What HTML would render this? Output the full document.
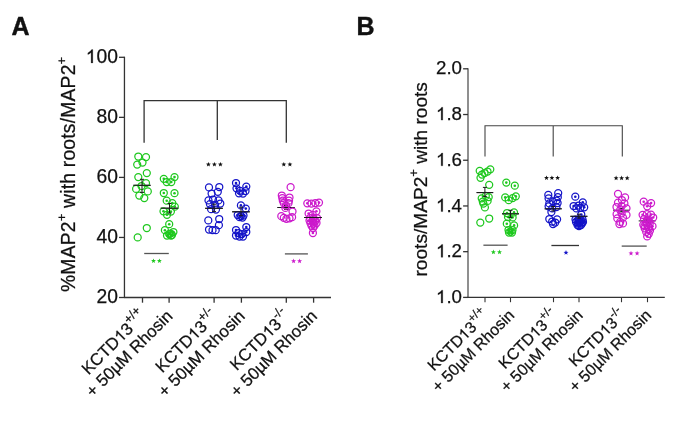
<!DOCTYPE html>
<html><head><meta charset="utf-8"><style>
html,body{margin:0;padding:0;background:#fff;}
svg{display:block;will-change:transform;}
text{font-family:"Liberation Sans",sans-serif;fill:#111;stroke:#111;stroke-width:0.25px;}
.one{fill-opacity:0;stroke-opacity:0;}
</style></head><body>
<svg width="685" height="424" viewBox="0 0 685 424">
<rect width="685" height="424" fill="#fff"/>
<text x="11.6" y="34.5" font-size="25" font-weight="bold" style="stroke-width:0.4px">A</text>
<text x="356.4" y="34.5" font-size="25" font-weight="bold" style="stroke-width:0.4px">B</text>
<line x1="124.45" y1="56.70000000000001" x2="124.45" y2="298.1" stroke="#333" stroke-width="1.3"/>
<line x1="124.45" y1="297.5" x2="331" y2="297.5" stroke="#333" stroke-width="1.3"/>
<line x1="119" y1="57.30000000000001" x2="124.45" y2="57.30000000000001" stroke="#333" stroke-width="1.3"/>
<text x="118" y="62.90000000000001" font-size="19.3" text-anchor="end"><tspan class="one">1</tspan>00</text>
<line x1="119" y1="117.35" x2="124.45" y2="117.35" stroke="#333" stroke-width="1.3"/>
<text x="118" y="122.94999999999999" font-size="19.3" text-anchor="end">80</text>
<line x1="119" y1="177.4" x2="124.45" y2="177.4" stroke="#333" stroke-width="1.3"/>
<text x="118" y="183.0" font-size="19.3" text-anchor="end">60</text>
<line x1="119" y1="237.45" x2="124.45" y2="237.45" stroke="#333" stroke-width="1.3"/>
<text x="118" y="243.04999999999998" font-size="19.3" text-anchor="end">40</text>
<line x1="119" y1="297.5" x2="124.45" y2="297.5" stroke="#333" stroke-width="1.3"/>
<text x="118" y="303.1" font-size="19.3" text-anchor="end">20</text>
<line x1="142.5" y1="297.5" x2="142.5" y2="302.7" stroke="#333" stroke-width="1.3"/>
<line x1="169.1" y1="297.5" x2="169.1" y2="302.7" stroke="#333" stroke-width="1.3"/>
<line x1="214.1" y1="297.5" x2="214.1" y2="302.7" stroke="#333" stroke-width="1.3"/>
<line x1="241.4" y1="297.5" x2="241.4" y2="302.7" stroke="#333" stroke-width="1.3"/>
<line x1="286.3" y1="297.5" x2="286.3" y2="302.7" stroke="#333" stroke-width="1.3"/>
<line x1="313.6" y1="297.5" x2="313.6" y2="302.7" stroke="#333" stroke-width="1.3"/>
<text transform="translate(74.8,292) rotate(-90)" font-size="19.3" letter-spacing="0.21">%MAP2<tspan dy="-8.8" font-size="13">+</tspan><tspan dy="8.8"> with roots/MAP2</tspan><tspan dy="-8.8" font-size="13">+</tspan></text>
<path d="M144.1,142.8 V100.6 H286.3 V142.8 M217.3,100.6 V140.1" fill="none" stroke="#333" stroke-width="1.3"/>
<line x1="133.4" y1="185.3" x2="150.6" y2="185.3" stroke="#1a1a1a" stroke-width="1.0"/>
<line x1="160.7" y1="208.2" x2="178.3" y2="208.2" stroke="#1a1a1a" stroke-width="1.0"/>
<line x1="205.2" y1="208.3" x2="222.8" y2="208.3" stroke="#1a1a1a" stroke-width="1.0"/>
<line x1="232.2" y1="211.8" x2="249.8" y2="211.8" stroke="#1a1a1a" stroke-width="1.0"/>
<line x1="277.2" y1="207.5" x2="294.8" y2="207.5" stroke="#1a1a1a" stroke-width="1.0"/><line x1="286" y1="205.5" x2="286" y2="209.5" stroke="#1a1a1a" stroke-width="1.0"/><line x1="284.0" y1="205.5" x2="288.0" y2="205.5" stroke="#1a1a1a" stroke-width="1.0"/><line x1="284.0" y1="209.5" x2="288.0" y2="209.5" stroke="#1a1a1a" stroke-width="1.0"/>
<line x1="304" y1="217.5" x2="322" y2="217.5" stroke="#1a1a1a" stroke-width="1.0"/><line x1="313" y1="215.8" x2="313" y2="219.2" stroke="#1a1a1a" stroke-width="1.0"/><line x1="311.0" y1="215.8" x2="315.0" y2="215.8" stroke="#1a1a1a" stroke-width="1.0"/><line x1="311.0" y1="219.2" x2="315.0" y2="219.2" stroke="#1a1a1a" stroke-width="1.0"/>
<circle cx="138.3" cy="156.5" r="3.5" fill="none" stroke="#1ec81e" stroke-width="1.25"/>
<circle cx="146.0" cy="157.1" r="3.5" fill="none" stroke="#1ec81e" stroke-width="1.25"/>
<circle cx="137.2" cy="164.6" r="3.5" fill="none" stroke="#1ec81e" stroke-width="1.25"/>
<circle cx="142.5" cy="162.5" r="3.5" fill="none" stroke="#1ec81e" stroke-width="1.25"/>
<circle cx="146.8" cy="173.1" r="3.5" fill="none" stroke="#1ec81e" stroke-width="1.25"/>
<circle cx="138.3" cy="177.1" r="3.5" fill="none" stroke="#1ec81e" stroke-width="1.25"/>
<circle cx="146.0" cy="183.2" r="3.5" fill="none" stroke="#1ec81e" stroke-width="1.25"/>
<circle cx="141.5" cy="186" r="3.5" fill="none" stroke="#1ec81e" stroke-width="1.25"/>
<circle cx="136.1" cy="188.9" r="3.5" fill="none" stroke="#1ec81e" stroke-width="1.25"/>
<circle cx="147.8" cy="191.4" r="3.5" fill="none" stroke="#1ec81e" stroke-width="1.25"/>
<circle cx="139.3" cy="195.6" r="3.5" fill="none" stroke="#1ec81e" stroke-width="1.25"/>
<circle cx="144.3" cy="198.1" r="3.5" fill="none" stroke="#1ec81e" stroke-width="1.25"/>
<circle cx="146.8" cy="228" r="3.5" fill="none" stroke="#1ec81e" stroke-width="1.25"/>
<circle cx="137.7" cy="237.4" r="3.5" fill="none" stroke="#1ec81e" stroke-width="1.25"/>
<circle cx="163.8" cy="178.8" r="3.5" fill="none" stroke="#1ec81e" stroke-width="1.25"/>
<circle cx="163.8" cy="178.8" r="1.3" fill="#1ec81e"/>
<circle cx="174.5" cy="177.1" r="3.5" fill="none" stroke="#1ec81e" stroke-width="1.25"/>
<circle cx="174.5" cy="177.1" r="1.3" fill="#1ec81e"/>
<circle cx="166.7" cy="182" r="3.5" fill="none" stroke="#1ec81e" stroke-width="1.25"/>
<circle cx="166.7" cy="182" r="1.3" fill="#1ec81e"/>
<circle cx="171.3" cy="182" r="3.5" fill="none" stroke="#1ec81e" stroke-width="1.25"/>
<circle cx="171.3" cy="182" r="1.3" fill="#1ec81e"/>
<circle cx="163.8" cy="193" r="3.5" fill="none" stroke="#1ec81e" stroke-width="1.25"/>
<circle cx="163.8" cy="193" r="1.3" fill="#1ec81e"/>
<circle cx="174.5" cy="193.2" r="3.5" fill="none" stroke="#1ec81e" stroke-width="1.25"/>
<circle cx="174.5" cy="193.2" r="1.3" fill="#1ec81e"/>
<circle cx="166.7" cy="200.7" r="3.5" fill="none" stroke="#1ec81e" stroke-width="1.25"/>
<circle cx="166.7" cy="200.7" r="1.3" fill="#1ec81e"/>
<circle cx="172.3" cy="203.1" r="3.5" fill="none" stroke="#1ec81e" stroke-width="1.25"/>
<circle cx="172.3" cy="203.1" r="1.3" fill="#1ec81e"/>
<circle cx="174.8" cy="206.7" r="3.5" fill="none" stroke="#1ec81e" stroke-width="1.25"/>
<circle cx="174.8" cy="206.7" r="1.3" fill="#1ec81e"/>
<circle cx="163.5" cy="211.3" r="3.5" fill="none" stroke="#1ec81e" stroke-width="1.25"/>
<circle cx="163.5" cy="211.3" r="1.3" fill="#1ec81e"/>
<circle cx="170.9" cy="211.6" r="3.5" fill="none" stroke="#1ec81e" stroke-width="1.25"/>
<circle cx="170.9" cy="211.6" r="1.3" fill="#1ec81e"/>
<circle cx="167" cy="214.8" r="3.5" fill="none" stroke="#1ec81e" stroke-width="1.25"/>
<circle cx="167" cy="214.8" r="1.3" fill="#1ec81e"/>
<circle cx="169.2" cy="224.2" r="3.5" fill="none" stroke="#1ec81e" stroke-width="1.25"/>
<circle cx="169.2" cy="224.2" r="1.3" fill="#1ec81e"/>
<circle cx="164.9" cy="230.2" r="3.5" fill="none" stroke="#1ec81e" stroke-width="1.25"/>
<circle cx="164.9" cy="230.2" r="1.3" fill="#1ec81e"/>
<circle cx="173.4" cy="232" r="3.5" fill="none" stroke="#1ec81e" stroke-width="1.25"/>
<circle cx="173.4" cy="232" r="1.3" fill="#1ec81e"/>
<circle cx="169.2" cy="234" r="3.5" fill="none" stroke="#1ec81e" stroke-width="1.25"/>
<circle cx="169.2" cy="234" r="1.3" fill="#1ec81e"/>
<circle cx="167" cy="235.5" r="3.5" fill="none" stroke="#1ec81e" stroke-width="1.25"/>
<circle cx="167" cy="235.5" r="1.3" fill="#1ec81e"/>
<circle cx="171" cy="235.5" r="3.5" fill="none" stroke="#1ec81e" stroke-width="1.25"/>
<circle cx="171" cy="235.5" r="1.3" fill="#1ec81e"/>
<circle cx="170.5" cy="233.5" r="3.5" fill="none" stroke="#1ec81e" stroke-width="1.25"/>
<circle cx="170.5" cy="233.5" r="1.3" fill="#1ec81e"/>
<circle cx="172" cy="235" r="3.5" fill="none" stroke="#1ec81e" stroke-width="1.25"/>
<circle cx="172" cy="235" r="1.3" fill="#1ec81e"/>
<circle cx="209" cy="187.4" r="3.5" fill="none" stroke="#1414c8" stroke-width="1.25"/>
<circle cx="219.3" cy="187" r="3.5" fill="none" stroke="#1414c8" stroke-width="1.25"/>
<circle cx="211.6" cy="193.6" r="3.5" fill="none" stroke="#1414c8" stroke-width="1.25"/>
<circle cx="217.8" cy="191.8" r="3.5" fill="none" stroke="#1414c8" stroke-width="1.25"/>
<circle cx="208.5" cy="200.4" r="3.5" fill="none" stroke="#1414c8" stroke-width="1.25"/>
<circle cx="213" cy="199.5" r="3.5" fill="none" stroke="#1414c8" stroke-width="1.25"/>
<circle cx="218.5" cy="200.4" r="3.5" fill="none" stroke="#1414c8" stroke-width="1.25"/>
<circle cx="220.3" cy="203.5" r="3.5" fill="none" stroke="#1414c8" stroke-width="1.25"/>
<circle cx="209.9" cy="204.1" r="3.5" fill="none" stroke="#1414c8" stroke-width="1.25"/>
<circle cx="215" cy="204.9" r="3.5" fill="none" stroke="#1414c8" stroke-width="1.25"/>
<circle cx="211.1" cy="209.2" r="3.5" fill="none" stroke="#1414c8" stroke-width="1.25"/>
<circle cx="216" cy="209.5" r="3.5" fill="none" stroke="#1414c8" stroke-width="1.25"/>
<circle cx="208.3" cy="220.4" r="3.5" fill="none" stroke="#1414c8" stroke-width="1.25"/>
<circle cx="219.2" cy="219" r="3.5" fill="none" stroke="#1414c8" stroke-width="1.25"/>
<circle cx="218.9" cy="225.2" r="3.5" fill="none" stroke="#1414c8" stroke-width="1.25"/>
<circle cx="209" cy="229.5" r="3.5" fill="none" stroke="#1414c8" stroke-width="1.25"/>
<circle cx="212.5" cy="230.2" r="3.5" fill="none" stroke="#1414c8" stroke-width="1.25"/>
<circle cx="215.7" cy="230.2" r="3.5" fill="none" stroke="#1414c8" stroke-width="1.25"/>
<circle cx="236" cy="183" r="3.5" fill="none" stroke="#1414c8" stroke-width="1.25"/>
<circle cx="236" cy="183" r="1.3" fill="#1414c8"/>
<circle cx="246.3" cy="186.6" r="3.5" fill="none" stroke="#1414c8" stroke-width="1.25"/>
<circle cx="246.3" cy="186.6" r="1.3" fill="#1414c8"/>
<circle cx="236.5" cy="188.3" r="3.5" fill="none" stroke="#1414c8" stroke-width="1.25"/>
<circle cx="236.5" cy="188.3" r="1.3" fill="#1414c8"/>
<circle cx="240" cy="190.8" r="3.5" fill="none" stroke="#1414c8" stroke-width="1.25"/>
<circle cx="240" cy="190.8" r="1.3" fill="#1414c8"/>
<circle cx="245.5" cy="191" r="3.5" fill="none" stroke="#1414c8" stroke-width="1.25"/>
<circle cx="245.5" cy="191" r="1.3" fill="#1414c8"/>
<circle cx="239" cy="193.3" r="3.5" fill="none" stroke="#1414c8" stroke-width="1.25"/>
<circle cx="239" cy="193.3" r="1.3" fill="#1414c8"/>
<circle cx="243" cy="193.5" r="3.5" fill="none" stroke="#1414c8" stroke-width="1.25"/>
<circle cx="243" cy="193.5" r="1.3" fill="#1414c8"/>
<circle cx="240.9" cy="205.4" r="3.5" fill="none" stroke="#1414c8" stroke-width="1.25"/>
<circle cx="240.9" cy="205.4" r="1.3" fill="#1414c8"/>
<circle cx="245.8" cy="208.6" r="3.5" fill="none" stroke="#1414c8" stroke-width="1.25"/>
<circle cx="245.8" cy="208.6" r="1.3" fill="#1414c8"/>
<circle cx="237.7" cy="215" r="3.5" fill="none" stroke="#1414c8" stroke-width="1.25"/>
<circle cx="237.7" cy="215" r="1.3" fill="#1414c8"/>
<circle cx="241" cy="216" r="3.5" fill="none" stroke="#1414c8" stroke-width="1.25"/>
<circle cx="241" cy="216" r="1.3" fill="#1414c8"/>
<circle cx="243.5" cy="215.5" r="3.5" fill="none" stroke="#1414c8" stroke-width="1.25"/>
<circle cx="243.5" cy="215.5" r="1.3" fill="#1414c8"/>
<circle cx="239.5" cy="217.2" r="3.5" fill="none" stroke="#1414c8" stroke-width="1.25"/>
<circle cx="239.5" cy="217.2" r="1.3" fill="#1414c8"/>
<circle cx="242.5" cy="217.6" r="3.5" fill="none" stroke="#1414c8" stroke-width="1.25"/>
<circle cx="242.5" cy="217.6" r="1.3" fill="#1414c8"/>
<circle cx="246.3" cy="227" r="3.5" fill="none" stroke="#1414c8" stroke-width="1.25"/>
<circle cx="246.3" cy="227" r="1.3" fill="#1414c8"/>
<circle cx="236" cy="230" r="3.5" fill="none" stroke="#1414c8" stroke-width="1.25"/>
<circle cx="236" cy="230" r="1.3" fill="#1414c8"/>
<circle cx="246.3" cy="232" r="3.5" fill="none" stroke="#1414c8" stroke-width="1.25"/>
<circle cx="246.3" cy="232" r="1.3" fill="#1414c8"/>
<circle cx="236" cy="235.5" r="3.5" fill="none" stroke="#1414c8" stroke-width="1.25"/>
<circle cx="236" cy="235.5" r="1.3" fill="#1414c8"/>
<circle cx="239.5" cy="236.5" r="3.5" fill="none" stroke="#1414c8" stroke-width="1.25"/>
<circle cx="239.5" cy="236.5" r="1.3" fill="#1414c8"/>
<circle cx="243" cy="236.5" r="3.5" fill="none" stroke="#1414c8" stroke-width="1.25"/>
<circle cx="243" cy="236.5" r="1.3" fill="#1414c8"/>
<circle cx="238.5" cy="233" r="3.5" fill="none" stroke="#1414c8" stroke-width="1.25"/>
<circle cx="238.5" cy="233" r="1.3" fill="#1414c8"/>
<circle cx="241.8" cy="234" r="3.5" fill="none" stroke="#1414c8" stroke-width="1.25"/>
<circle cx="241.8" cy="234" r="1.3" fill="#1414c8"/>
<circle cx="290.6" cy="187.2" r="3.5" fill="none" stroke="#cc1acc" stroke-width="1.25"/>
<circle cx="281.8" cy="195.5" r="3.5" fill="none" stroke="#cc1acc" stroke-width="1.25"/>
<circle cx="282.3" cy="198.1" r="3.5" fill="none" stroke="#cc1acc" stroke-width="1.25"/>
<circle cx="282.8" cy="200.7" r="3.5" fill="none" stroke="#cc1acc" stroke-width="1.25"/>
<circle cx="283.8" cy="203.2" r="3.5" fill="none" stroke="#cc1acc" stroke-width="1.25"/>
<circle cx="289.5" cy="197.5" r="3.5" fill="none" stroke="#cc1acc" stroke-width="1.25"/>
<circle cx="289" cy="200.7" r="3.5" fill="none" stroke="#cc1acc" stroke-width="1.25"/>
<circle cx="288.5" cy="203.2" r="3.5" fill="none" stroke="#cc1acc" stroke-width="1.25"/>
<circle cx="286" cy="205.5" r="3.5" fill="none" stroke="#cc1acc" stroke-width="1.25"/>
<circle cx="285.4" cy="207.9" r="3.5" fill="none" stroke="#cc1acc" stroke-width="1.25"/>
<circle cx="292.5" cy="211.5" r="3.5" fill="none" stroke="#cc1acc" stroke-width="1.25"/>
<circle cx="281.3" cy="216.2" r="3.5" fill="none" stroke="#cc1acc" stroke-width="1.25"/>
<circle cx="283.8" cy="217.8" r="3.5" fill="none" stroke="#cc1acc" stroke-width="1.25"/>
<circle cx="286.4" cy="218.8" r="3.5" fill="none" stroke="#cc1acc" stroke-width="1.25"/>
<circle cx="289.5" cy="218.3" r="3.5" fill="none" stroke="#cc1acc" stroke-width="1.25"/>
<circle cx="292.1" cy="217.2" r="3.5" fill="none" stroke="#cc1acc" stroke-width="1.25"/>
<circle cx="307.3" cy="203.3" r="3.5" fill="none" stroke="#cc1acc" stroke-width="1.25"/>
<circle cx="307.3" cy="203.3" r="1.3" fill="#cc1acc"/>
<circle cx="311.4" cy="203.5" r="3.5" fill="none" stroke="#cc1acc" stroke-width="1.25"/>
<circle cx="311.4" cy="203.5" r="1.3" fill="#cc1acc"/>
<circle cx="315.3" cy="203.1" r="3.5" fill="none" stroke="#cc1acc" stroke-width="1.25"/>
<circle cx="315.3" cy="203.1" r="1.3" fill="#cc1acc"/>
<circle cx="319" cy="202.6" r="3.5" fill="none" stroke="#cc1acc" stroke-width="1.25"/>
<circle cx="319" cy="202.6" r="1.3" fill="#cc1acc"/>
<circle cx="316.4" cy="211.3" r="3.5" fill="none" stroke="#cc1acc" stroke-width="1.25"/>
<circle cx="316.4" cy="211.3" r="1.3" fill="#cc1acc"/>
<circle cx="308.6" cy="213.5" r="3.5" fill="none" stroke="#cc1acc" stroke-width="1.25"/>
<circle cx="308.6" cy="213.5" r="1.3" fill="#cc1acc"/>
<circle cx="312.8" cy="214.8" r="3.5" fill="none" stroke="#cc1acc" stroke-width="1.25"/>
<circle cx="312.8" cy="214.8" r="1.3" fill="#cc1acc"/>
<circle cx="310" cy="218" r="3.5" fill="none" stroke="#cc1acc" stroke-width="1.25"/>
<circle cx="310" cy="218" r="1.3" fill="#cc1acc"/>
<circle cx="313.5" cy="218.5" r="3.5" fill="none" stroke="#cc1acc" stroke-width="1.25"/>
<circle cx="313.5" cy="218.5" r="1.3" fill="#cc1acc"/>
<circle cx="317" cy="218" r="3.5" fill="none" stroke="#cc1acc" stroke-width="1.25"/>
<circle cx="317" cy="218" r="1.3" fill="#cc1acc"/>
<circle cx="309.5" cy="220.5" r="3.5" fill="none" stroke="#cc1acc" stroke-width="1.25"/>
<circle cx="309.5" cy="220.5" r="1.3" fill="#cc1acc"/>
<circle cx="312.5" cy="221" r="3.5" fill="none" stroke="#cc1acc" stroke-width="1.25"/>
<circle cx="312.5" cy="221" r="1.3" fill="#cc1acc"/>
<circle cx="315.5" cy="220.8" r="3.5" fill="none" stroke="#cc1acc" stroke-width="1.25"/>
<circle cx="315.5" cy="220.8" r="1.3" fill="#cc1acc"/>
<circle cx="310.5" cy="223.2" r="3.5" fill="none" stroke="#cc1acc" stroke-width="1.25"/>
<circle cx="310.5" cy="223.2" r="1.3" fill="#cc1acc"/>
<circle cx="313.5" cy="223.5" r="3.5" fill="none" stroke="#cc1acc" stroke-width="1.25"/>
<circle cx="313.5" cy="223.5" r="1.3" fill="#cc1acc"/>
<circle cx="316.5" cy="223" r="3.5" fill="none" stroke="#cc1acc" stroke-width="1.25"/>
<circle cx="316.5" cy="223" r="1.3" fill="#cc1acc"/>
<circle cx="311.5" cy="225.8" r="3.5" fill="none" stroke="#cc1acc" stroke-width="1.25"/>
<circle cx="311.5" cy="225.8" r="1.3" fill="#cc1acc"/>
<circle cx="314.5" cy="225.8" r="3.5" fill="none" stroke="#cc1acc" stroke-width="1.25"/>
<circle cx="314.5" cy="225.8" r="1.3" fill="#cc1acc"/>
<circle cx="313" cy="228.2" r="3.5" fill="none" stroke="#cc1acc" stroke-width="1.25"/>
<circle cx="313" cy="228.2" r="1.3" fill="#cc1acc"/>
<circle cx="312.9" cy="233" r="3.5" fill="none" stroke="#cc1acc" stroke-width="1.25"/>
<circle cx="312.9" cy="233" r="1.3" fill="#cc1acc"/>
<polygon points="208.40,161.90 209.04,163.62 210.87,163.70 209.44,164.84 209.93,166.60 208.40,165.59 206.87,166.60 207.36,164.84 205.93,163.70 207.76,163.62" fill="#111"/><polygon points="214.40,161.90 215.04,163.62 216.87,163.70 215.44,164.84 215.93,166.60 214.40,165.59 212.87,166.60 213.36,164.84 211.93,163.70 213.76,163.62" fill="#111"/><polygon points="220.40,161.90 221.04,163.62 222.87,163.70 221.44,164.84 221.93,166.60 220.40,165.59 218.87,166.60 219.36,164.84 217.93,163.70 219.76,163.62" fill="#111"/>
<polygon points="283.80,161.90 284.44,163.62 286.27,163.70 284.84,164.84 285.33,166.60 283.80,165.59 282.27,166.60 282.76,164.84 281.33,163.70 283.16,163.62" fill="#111"/><polygon points="289.90,161.90 290.54,163.62 292.37,163.70 290.94,164.84 291.43,166.60 289.90,165.59 288.37,166.60 288.86,164.84 287.43,163.70 289.26,163.62" fill="#111"/>
<line x1="144.2" y1="253.5" x2="168.8" y2="253.5" stroke="#555" stroke-width="1.3"/>
<polygon points="153.50,258.40 154.14,260.12 155.97,260.20 154.54,261.34 155.03,263.10 153.50,262.09 151.97,263.10 152.46,261.34 151.03,260.20 152.86,260.12" fill="#1ec81e"/><polygon points="159.40,258.40 160.04,260.12 161.87,260.20 160.44,261.34 160.93,263.10 159.40,262.09 157.87,263.10 158.36,261.34 156.93,260.20 158.76,260.12" fill="#1ec81e"/>
<line x1="284.9" y1="253.9" x2="307.9" y2="253.9" stroke="#555" stroke-width="1.3"/>
<polygon points="293.60,258.50 294.24,260.22 296.07,260.30 294.64,261.44 295.13,263.20 293.60,262.19 292.07,263.20 292.56,261.44 291.13,260.30 292.96,260.22" fill="#cc1acc"/><polygon points="299.60,258.50 300.24,260.22 302.07,260.30 300.64,261.44 301.13,263.20 299.60,262.19 298.07,263.20 298.56,261.44 297.13,260.30 298.96,260.22" fill="#cc1acc"/>
<text transform="translate(147.0,317.0) rotate(-45)" font-size="16.9" text-anchor="end">KCTD<tspan class="one">1</tspan>3<tspan dy="-7.9" font-size="12.5">+/+</tspan></text>
<text transform="translate(173.6,317.0) rotate(-45)" font-size="16.9" text-anchor="end">+ 50µM Rhosin</text>
<text transform="translate(218.6,317.0) rotate(-45)" font-size="16.9" text-anchor="end">KCTD<tspan class="one">1</tspan>3<tspan dy="-7.9" font-size="12.5">+/-</tspan></text>
<text transform="translate(245.9,317.0) rotate(-45)" font-size="16.9" text-anchor="end">+ 50µM Rhosin</text>
<text transform="translate(290.8,317.0) rotate(-45)" font-size="16.9" text-anchor="end">KCTD<tspan class="one">1</tspan>3<tspan dy="-7.9" font-size="12.5">-/-</tspan></text>
<text transform="translate(318.1,317.0) rotate(-45)" font-size="16.9" text-anchor="end">+ 50µM Rhosin</text>
<line x1="468.0" y1="68.29999999999998" x2="468.0" y2="298.0" stroke="#333" stroke-width="1.1"/>
<line x1="467.5" y1="297.4" x2="664.8" y2="297.4" stroke="#333" stroke-width="1.3"/>
<line x1="463.1" y1="68.79999999999998" x2="468.0" y2="68.79999999999998" stroke="#333" stroke-width="1.3"/>
<text x="462" y="74.39999999999998" font-size="18.7" text-anchor="end">2.0</text>
<line x1="463.1" y1="114.51999999999998" x2="468.0" y2="114.51999999999998" stroke="#333" stroke-width="1.3"/>
<text x="462" y="120.11999999999998" font-size="18.7" text-anchor="end"><tspan class="one">1</tspan>.8</text>
<line x1="463.1" y1="160.23999999999995" x2="468.0" y2="160.23999999999995" stroke="#333" stroke-width="1.3"/>
<text x="462" y="165.83999999999995" font-size="18.7" text-anchor="end"><tspan class="one">1</tspan>.6</text>
<line x1="463.1" y1="205.95999999999998" x2="468.0" y2="205.95999999999998" stroke="#333" stroke-width="1.3"/>
<text x="462" y="211.55999999999997" font-size="18.7" text-anchor="end"><tspan class="one">1</tspan>.4</text>
<line x1="463.1" y1="251.67999999999998" x2="468.0" y2="251.67999999999998" stroke="#333" stroke-width="1.3"/>
<text x="462" y="257.28" font-size="18.7" text-anchor="end"><tspan class="one">1</tspan>.2</text>
<line x1="463.1" y1="297.4" x2="468.0" y2="297.4" stroke="#333" stroke-width="1.3"/>
<text x="462" y="303.0" font-size="18.7" text-anchor="end"><tspan class="one">1</tspan>.0</text>
<line x1="485.0" y1="297.4" x2="485.0" y2="302.2" stroke="#333" stroke-width="1.1"/>
<line x1="510.5" y1="297.4" x2="510.5" y2="302.2" stroke="#333" stroke-width="1.1"/>
<line x1="553.5" y1="297.4" x2="553.5" y2="302.2" stroke="#333" stroke-width="1.1"/>
<line x1="579.0" y1="297.4" x2="579.0" y2="302.2" stroke="#333" stroke-width="1.1"/>
<line x1="621.5" y1="297.4" x2="621.5" y2="302.2" stroke="#333" stroke-width="1.1"/>
<line x1="647.5" y1="297.4" x2="647.5" y2="302.2" stroke="#333" stroke-width="1.1"/>
<text transform="translate(426.9,276.5) rotate(-90)" font-size="19.1">roots/MAP2<tspan dy="-8.8" font-size="13">+</tspan><tspan dy="8.8"> with roots</tspan></text>
<path d="M485.0,156.6 V125.7 H622.3 V156.6 M553.2,125.7 V156.6" fill="none" stroke="#444" stroke-width="1.1"/>
<line x1="476.59999999999997" y1="192.6" x2="493.2" y2="192.6" stroke="#1a1a1a" stroke-width="1.0"/>
<line x1="502.0" y1="213.8" x2="519.0" y2="213.8" stroke="#1a1a1a" stroke-width="1.0"/>
<line x1="544.7" y1="208.8" x2="561.7" y2="208.8" stroke="#1a1a1a" stroke-width="1.0"/>
<line x1="570.4" y1="216.3" x2="587.4" y2="216.3" stroke="#1a1a1a" stroke-width="1.0"/>
<line x1="613.1" y1="210.2" x2="629.6999999999999" y2="210.2" stroke="#1a1a1a" stroke-width="1.0"/><line x1="621.4" y1="208.6" x2="621.4" y2="211.8" stroke="#1a1a1a" stroke-width="1.0"/><line x1="619.4" y1="208.6" x2="623.4" y2="208.6" stroke="#1a1a1a" stroke-width="1.0"/><line x1="619.4" y1="211.8" x2="623.4" y2="211.8" stroke="#1a1a1a" stroke-width="1.0"/>
<line x1="638.7" y1="220.9" x2="655.7" y2="220.9" stroke="#1a1a1a" stroke-width="1.0"/><line x1="647.2" y1="219.5" x2="647.2" y2="222.3" stroke="#1a1a1a" stroke-width="1.0"/><line x1="645.2" y1="219.5" x2="649.2" y2="219.5" stroke="#1a1a1a" stroke-width="1.0"/><line x1="645.2" y1="222.3" x2="649.2" y2="222.3" stroke="#1a1a1a" stroke-width="1.0"/>
<circle cx="479.7" cy="170.8" r="3.5" fill="none" stroke="#1ec81e" stroke-width="1.25"/>
<circle cx="490.3" cy="169.3" r="3.5" fill="none" stroke="#1ec81e" stroke-width="1.25"/>
<circle cx="487.5" cy="171.5" r="3.5" fill="none" stroke="#1ec81e" stroke-width="1.25"/>
<circle cx="484.5" cy="173" r="3.5" fill="none" stroke="#1ec81e" stroke-width="1.25"/>
<circle cx="482" cy="174.5" r="3.5" fill="none" stroke="#1ec81e" stroke-width="1.25"/>
<circle cx="480.5" cy="177.8" r="3.5" fill="none" stroke="#1ec81e" stroke-width="1.25"/>
<circle cx="489.2" cy="184.8" r="3.5" fill="none" stroke="#1ec81e" stroke-width="1.25"/>
<circle cx="485.8" cy="195.9" r="3.5" fill="none" stroke="#1ec81e" stroke-width="1.25"/>
<circle cx="488.7" cy="197.1" r="3.5" fill="none" stroke="#1ec81e" stroke-width="1.25"/>
<circle cx="481.7" cy="198.3" r="3.5" fill="none" stroke="#1ec81e" stroke-width="1.25"/>
<circle cx="487.6" cy="200.9" r="3.5" fill="none" stroke="#1ec81e" stroke-width="1.25"/>
<circle cx="482.8" cy="201.5" r="3.5" fill="none" stroke="#1ec81e" stroke-width="1.25"/>
<circle cx="483.4" cy="203.6" r="3.5" fill="none" stroke="#1ec81e" stroke-width="1.25"/>
<circle cx="484.9" cy="207.4" r="3.5" fill="none" stroke="#1ec81e" stroke-width="1.25"/>
<circle cx="480.3" cy="222.6" r="3.5" fill="none" stroke="#1ec81e" stroke-width="1.25"/>
<circle cx="489.2" cy="218.5" r="3.5" fill="none" stroke="#1ec81e" stroke-width="1.25"/>
<circle cx="506.3" cy="182.6" r="3.5" fill="none" stroke="#1ec81e" stroke-width="1.25"/>
<circle cx="506.3" cy="182.6" r="1.3" fill="#1ec81e"/>
<circle cx="514.8" cy="185.7" r="3.5" fill="none" stroke="#1ec81e" stroke-width="1.25"/>
<circle cx="514.8" cy="185.7" r="1.3" fill="#1ec81e"/>
<circle cx="505.2" cy="197.4" r="3.5" fill="none" stroke="#1ec81e" stroke-width="1.25"/>
<circle cx="505.2" cy="197.4" r="1.3" fill="#1ec81e"/>
<circle cx="508.7" cy="200.2" r="3.5" fill="none" stroke="#1ec81e" stroke-width="1.25"/>
<circle cx="508.7" cy="200.2" r="1.3" fill="#1ec81e"/>
<circle cx="512.6" cy="198.1" r="3.5" fill="none" stroke="#1ec81e" stroke-width="1.25"/>
<circle cx="512.6" cy="198.1" r="1.3" fill="#1ec81e"/>
<circle cx="515.8" cy="196.3" r="3.5" fill="none" stroke="#1ec81e" stroke-width="1.25"/>
<circle cx="515.8" cy="196.3" r="1.3" fill="#1ec81e"/>
<circle cx="507" cy="213" r="3.5" fill="none" stroke="#1ec81e" stroke-width="1.25"/>
<circle cx="507" cy="213" r="1.3" fill="#1ec81e"/>
<circle cx="514" cy="212.4" r="3.5" fill="none" stroke="#1ec81e" stroke-width="1.25"/>
<circle cx="514" cy="212.4" r="1.3" fill="#1ec81e"/>
<circle cx="508" cy="217" r="3.5" fill="none" stroke="#1ec81e" stroke-width="1.25"/>
<circle cx="508" cy="217" r="1.3" fill="#1ec81e"/>
<circle cx="512.6" cy="217.4" r="3.5" fill="none" stroke="#1ec81e" stroke-width="1.25"/>
<circle cx="512.6" cy="217.4" r="1.3" fill="#1ec81e"/>
<circle cx="506.8" cy="223.7" r="3.5" fill="none" stroke="#1ec81e" stroke-width="1.25"/>
<circle cx="506.8" cy="223.7" r="1.3" fill="#1ec81e"/>
<circle cx="514.1" cy="225.4" r="3.5" fill="none" stroke="#1ec81e" stroke-width="1.25"/>
<circle cx="514.1" cy="225.4" r="1.3" fill="#1ec81e"/>
<circle cx="508.5" cy="230" r="3.5" fill="none" stroke="#1ec81e" stroke-width="1.25"/>
<circle cx="508.5" cy="230" r="1.3" fill="#1ec81e"/>
<circle cx="512.5" cy="230" r="3.5" fill="none" stroke="#1ec81e" stroke-width="1.25"/>
<circle cx="512.5" cy="230" r="1.3" fill="#1ec81e"/>
<circle cx="510.5" cy="231.5" r="3.5" fill="none" stroke="#1ec81e" stroke-width="1.25"/>
<circle cx="510.5" cy="231.5" r="1.3" fill="#1ec81e"/>
<circle cx="509" cy="232.5" r="3.5" fill="none" stroke="#1ec81e" stroke-width="1.25"/>
<circle cx="509" cy="232.5" r="1.3" fill="#1ec81e"/>
<circle cx="512" cy="232.5" r="3.5" fill="none" stroke="#1ec81e" stroke-width="1.25"/>
<circle cx="512" cy="232.5" r="1.3" fill="#1ec81e"/>
<circle cx="548.3" cy="194.9" r="3.5" fill="none" stroke="#1414c8" stroke-width="1.25"/>
<circle cx="558.2" cy="193.1" r="3.5" fill="none" stroke="#1414c8" stroke-width="1.25"/>
<circle cx="557.8" cy="197.2" r="3.5" fill="none" stroke="#1414c8" stroke-width="1.25"/>
<circle cx="548.6" cy="198.4" r="3.5" fill="none" stroke="#1414c8" stroke-width="1.25"/>
<circle cx="552.9" cy="201.3" r="3.5" fill="none" stroke="#1414c8" stroke-width="1.25"/>
<circle cx="556.5" cy="200.5" r="3.5" fill="none" stroke="#1414c8" stroke-width="1.25"/>
<circle cx="549.3" cy="203.4" r="3.5" fill="none" stroke="#1414c8" stroke-width="1.25"/>
<circle cx="557.6" cy="203" r="3.5" fill="none" stroke="#1414c8" stroke-width="1.25"/>
<circle cx="548.6" cy="206.3" r="3.5" fill="none" stroke="#1414c8" stroke-width="1.25"/>
<circle cx="556.4" cy="207" r="3.5" fill="none" stroke="#1414c8" stroke-width="1.25"/>
<circle cx="552.2" cy="208.4" r="3.5" fill="none" stroke="#1414c8" stroke-width="1.25"/>
<circle cx="551.4" cy="212" r="3.5" fill="none" stroke="#1414c8" stroke-width="1.25"/>
<circle cx="549.3" cy="219" r="3.5" fill="none" stroke="#1414c8" stroke-width="1.25"/>
<circle cx="557.1" cy="219.3" r="3.5" fill="none" stroke="#1414c8" stroke-width="1.25"/>
<circle cx="552.2" cy="221.5" r="3.5" fill="none" stroke="#1414c8" stroke-width="1.25"/>
<circle cx="555.2" cy="222.5" r="3.5" fill="none" stroke="#1414c8" stroke-width="1.25"/>
<circle cx="553" cy="224" r="3.5" fill="none" stroke="#1414c8" stroke-width="1.25"/>
<circle cx="575.3" cy="196.7" r="3.5" fill="none" stroke="#1414c8" stroke-width="1.25"/>
<circle cx="575.3" cy="196.7" r="1.3" fill="#1414c8"/>
<circle cx="582.8" cy="202.3" r="3.5" fill="none" stroke="#1414c8" stroke-width="1.25"/>
<circle cx="582.8" cy="202.3" r="1.3" fill="#1414c8"/>
<circle cx="573.6" cy="206" r="3.5" fill="none" stroke="#1414c8" stroke-width="1.25"/>
<circle cx="573.6" cy="206" r="1.3" fill="#1414c8"/>
<circle cx="578.5" cy="205.5" r="3.5" fill="none" stroke="#1414c8" stroke-width="1.25"/>
<circle cx="578.5" cy="205.5" r="1.3" fill="#1414c8"/>
<circle cx="584.2" cy="207.3" r="3.5" fill="none" stroke="#1414c8" stroke-width="1.25"/>
<circle cx="584.2" cy="207.3" r="1.3" fill="#1414c8"/>
<circle cx="576.4" cy="208.4" r="3.5" fill="none" stroke="#1414c8" stroke-width="1.25"/>
<circle cx="576.4" cy="208.4" r="1.3" fill="#1414c8"/>
<circle cx="580.3" cy="207.8" r="3.5" fill="none" stroke="#1414c8" stroke-width="1.25"/>
<circle cx="580.3" cy="207.8" r="1.3" fill="#1414c8"/>
<circle cx="581.3" cy="214.5" r="3.5" fill="none" stroke="#1414c8" stroke-width="1.25"/>
<circle cx="581.3" cy="214.5" r="1.3" fill="#1414c8"/>
<circle cx="575.5" cy="219.5" r="3.5" fill="none" stroke="#1414c8" stroke-width="1.25"/>
<circle cx="575.5" cy="219.5" r="1.3" fill="#1414c8"/>
<circle cx="579" cy="219.5" r="3.5" fill="none" stroke="#1414c8" stroke-width="1.25"/>
<circle cx="579" cy="219.5" r="1.3" fill="#1414c8"/>
<circle cx="582.5" cy="219.5" r="3.5" fill="none" stroke="#1414c8" stroke-width="1.25"/>
<circle cx="582.5" cy="219.5" r="1.3" fill="#1414c8"/>
<circle cx="576" cy="222" r="3.5" fill="none" stroke="#1414c8" stroke-width="1.25"/>
<circle cx="576" cy="222" r="1.3" fill="#1414c8"/>
<circle cx="580" cy="222.5" r="3.5" fill="none" stroke="#1414c8" stroke-width="1.25"/>
<circle cx="580" cy="222.5" r="1.3" fill="#1414c8"/>
<circle cx="583" cy="222" r="3.5" fill="none" stroke="#1414c8" stroke-width="1.25"/>
<circle cx="583" cy="222" r="1.3" fill="#1414c8"/>
<circle cx="577.5" cy="225" r="3.5" fill="none" stroke="#1414c8" stroke-width="1.25"/>
<circle cx="577.5" cy="225" r="1.3" fill="#1414c8"/>
<circle cx="581" cy="225" r="3.5" fill="none" stroke="#1414c8" stroke-width="1.25"/>
<circle cx="581" cy="225" r="1.3" fill="#1414c8"/>
<circle cx="579" cy="226" r="3.5" fill="none" stroke="#1414c8" stroke-width="1.25"/>
<circle cx="579" cy="226" r="1.3" fill="#1414c8"/>
<circle cx="577.5" cy="220.5" r="3.5" fill="none" stroke="#1414c8" stroke-width="1.25"/>
<circle cx="577.5" cy="220.5" r="1.3" fill="#1414c8"/>
<circle cx="581" cy="221" r="3.5" fill="none" stroke="#1414c8" stroke-width="1.25"/>
<circle cx="581" cy="221" r="1.3" fill="#1414c8"/>
<circle cx="578" cy="223.5" r="3.5" fill="none" stroke="#1414c8" stroke-width="1.25"/>
<circle cx="578" cy="223.5" r="1.3" fill="#1414c8"/>
<circle cx="582" cy="223.5" r="3.5" fill="none" stroke="#1414c8" stroke-width="1.25"/>
<circle cx="582" cy="223.5" r="1.3" fill="#1414c8"/>
<circle cx="618" cy="193.8" r="3.5" fill="none" stroke="#cc1acc" stroke-width="1.25"/>
<circle cx="625.1" cy="197.4" r="3.5" fill="none" stroke="#cc1acc" stroke-width="1.25"/>
<circle cx="621.9" cy="200" r="3.5" fill="none" stroke="#cc1acc" stroke-width="1.25"/>
<circle cx="618" cy="202.7" r="3.5" fill="none" stroke="#cc1acc" stroke-width="1.25"/>
<circle cx="624.4" cy="203.4" r="3.5" fill="none" stroke="#cc1acc" stroke-width="1.25"/>
<circle cx="616.5" cy="207" r="3.5" fill="none" stroke="#cc1acc" stroke-width="1.25"/>
<circle cx="621.6" cy="206.2" r="3.5" fill="none" stroke="#cc1acc" stroke-width="1.25"/>
<circle cx="626.5" cy="208.3" r="3.5" fill="none" stroke="#cc1acc" stroke-width="1.25"/>
<circle cx="620.2" cy="210" r="3.5" fill="none" stroke="#cc1acc" stroke-width="1.25"/>
<circle cx="616.6" cy="214.2" r="3.5" fill="none" stroke="#cc1acc" stroke-width="1.25"/>
<circle cx="621.6" cy="213.4" r="3.5" fill="none" stroke="#cc1acc" stroke-width="1.25"/>
<circle cx="626.5" cy="214.9" r="3.5" fill="none" stroke="#cc1acc" stroke-width="1.25"/>
<circle cx="617.3" cy="218.4" r="3.5" fill="none" stroke="#cc1acc" stroke-width="1.25"/>
<circle cx="623" cy="217.7" r="3.5" fill="none" stroke="#cc1acc" stroke-width="1.25"/>
<circle cx="620.2" cy="221.9" r="3.5" fill="none" stroke="#cc1acc" stroke-width="1.25"/>
<circle cx="623" cy="223.4" r="3.5" fill="none" stroke="#cc1acc" stroke-width="1.25"/>
<circle cx="619.4" cy="224" r="3.5" fill="none" stroke="#cc1acc" stroke-width="1.25"/>
<circle cx="643.7" cy="201.7" r="3.5" fill="none" stroke="#cc1acc" stroke-width="1.25"/>
<circle cx="643.7" cy="201.7" r="1.3" fill="#cc1acc"/>
<circle cx="651.1" cy="203.1" r="3.5" fill="none" stroke="#cc1acc" stroke-width="1.25"/>
<circle cx="651.1" cy="203.1" r="1.3" fill="#cc1acc"/>
<circle cx="647.2" cy="206.3" r="3.5" fill="none" stroke="#cc1acc" stroke-width="1.25"/>
<circle cx="647.2" cy="206.3" r="1.3" fill="#cc1acc"/>
<circle cx="642.6" cy="214.8" r="3.5" fill="none" stroke="#cc1acc" stroke-width="1.25"/>
<circle cx="642.6" cy="214.8" r="1.3" fill="#cc1acc"/>
<circle cx="646.9" cy="214.2" r="3.5" fill="none" stroke="#cc1acc" stroke-width="1.25"/>
<circle cx="646.9" cy="214.2" r="1.3" fill="#cc1acc"/>
<circle cx="651" cy="214.6" r="3.5" fill="none" stroke="#cc1acc" stroke-width="1.25"/>
<circle cx="651" cy="214.6" r="1.3" fill="#cc1acc"/>
<circle cx="653.2" cy="217.5" r="3.5" fill="none" stroke="#cc1acc" stroke-width="1.25"/>
<circle cx="653.2" cy="217.5" r="1.3" fill="#cc1acc"/>
<circle cx="644" cy="219" r="3.5" fill="none" stroke="#cc1acc" stroke-width="1.25"/>
<circle cx="644" cy="219" r="1.3" fill="#cc1acc"/>
<circle cx="648.5" cy="219.5" r="3.5" fill="none" stroke="#cc1acc" stroke-width="1.25"/>
<circle cx="648.5" cy="219.5" r="1.3" fill="#cc1acc"/>
<circle cx="646.9" cy="222" r="3.5" fill="none" stroke="#cc1acc" stroke-width="1.25"/>
<circle cx="646.9" cy="222" r="1.3" fill="#cc1acc"/>
<circle cx="643.3" cy="224.8" r="3.5" fill="none" stroke="#cc1acc" stroke-width="1.25"/>
<circle cx="643.3" cy="224.8" r="1.3" fill="#cc1acc"/>
<circle cx="649.7" cy="223.4" r="3.5" fill="none" stroke="#cc1acc" stroke-width="1.25"/>
<circle cx="649.7" cy="223.4" r="1.3" fill="#cc1acc"/>
<circle cx="652.5" cy="226.2" r="3.5" fill="none" stroke="#cc1acc" stroke-width="1.25"/>
<circle cx="652.5" cy="226.2" r="1.3" fill="#cc1acc"/>
<circle cx="644.7" cy="228.4" r="3.5" fill="none" stroke="#cc1acc" stroke-width="1.25"/>
<circle cx="644.7" cy="228.4" r="1.3" fill="#cc1acc"/>
<circle cx="649" cy="229.1" r="3.5" fill="none" stroke="#cc1acc" stroke-width="1.25"/>
<circle cx="649" cy="229.1" r="1.3" fill="#cc1acc"/>
<circle cx="646.2" cy="231.9" r="3.5" fill="none" stroke="#cc1acc" stroke-width="1.25"/>
<circle cx="646.2" cy="231.9" r="1.3" fill="#cc1acc"/>
<circle cx="648.8" cy="233.8" r="3.5" fill="none" stroke="#cc1acc" stroke-width="1.25"/>
<circle cx="648.8" cy="233.8" r="1.3" fill="#cc1acc"/>
<circle cx="647.2" cy="236.4" r="3.5" fill="none" stroke="#cc1acc" stroke-width="1.25"/>
<circle cx="647.2" cy="236.4" r="1.3" fill="#cc1acc"/>
<circle cx="649" cy="221.5" r="3.5" fill="none" stroke="#cc1acc" stroke-width="1.25"/>
<circle cx="649" cy="221.5" r="1.3" fill="#cc1acc"/>
<circle cx="644.5" cy="226" r="3.5" fill="none" stroke="#cc1acc" stroke-width="1.25"/>
<circle cx="644.5" cy="226" r="1.3" fill="#cc1acc"/>
<circle cx="648.5" cy="227" r="3.5" fill="none" stroke="#cc1acc" stroke-width="1.25"/>
<circle cx="648.5" cy="227" r="1.3" fill="#cc1acc"/>
<circle cx="650" cy="230.5" r="3.5" fill="none" stroke="#cc1acc" stroke-width="1.25"/>
<circle cx="650" cy="230.5" r="1.3" fill="#cc1acc"/>
<polygon points="546.50,175.40 547.14,177.12 548.97,177.20 547.54,178.34 548.03,180.10 546.50,179.09 544.97,180.10 545.46,178.34 544.03,177.20 545.86,177.12" fill="#111"/><polygon points="551.90,175.40 552.54,177.12 554.37,177.20 552.94,178.34 553.43,180.10 551.90,179.09 550.37,180.10 550.86,178.34 549.43,177.20 551.26,177.12" fill="#111"/><polygon points="557.60,175.40 558.24,177.12 560.07,177.20 558.64,178.34 559.13,180.10 557.60,179.09 556.07,180.10 556.56,178.34 555.13,177.20 556.96,177.12" fill="#111"/>
<polygon points="616.10,175.60 616.74,177.32 618.57,177.40 617.14,178.54 617.63,180.30 616.10,179.29 614.57,180.30 615.06,178.54 613.63,177.40 615.46,177.32" fill="#111"/><polygon points="621.60,175.60 622.24,177.32 624.07,177.40 622.64,178.54 623.13,180.30 621.60,179.29 620.07,180.30 620.56,178.54 619.13,177.40 620.96,177.32" fill="#111"/><polygon points="627.20,175.60 627.84,177.32 629.67,177.40 628.24,178.54 628.73,180.30 627.20,179.29 625.67,180.30 626.16,178.54 624.73,177.40 626.56,177.32" fill="#111"/>
<line x1="483.4" y1="245.2" x2="507.6" y2="245.2" stroke="#555" stroke-width="1.3"/>
<polygon points="493.40,249.60 494.04,251.32 495.87,251.40 494.44,252.54 494.93,254.30 493.40,253.29 491.87,254.30 492.36,252.54 490.93,251.40 492.76,251.32" fill="#1ec81e"/><polygon points="499.50,249.60 500.14,251.32 501.97,251.40 500.54,252.54 501.03,254.30 499.50,253.29 497.97,254.30 498.46,252.54 497.03,251.40 498.86,251.32" fill="#1ec81e"/>
<line x1="551.4" y1="245.5" x2="579" y2="245.5" stroke="#333" stroke-width="1.3"/>
<polygon points="566.00,250.10 566.64,251.82 568.47,251.90 567.04,253.04 567.53,254.80 566.00,253.79 564.47,254.80 564.96,253.04 563.53,251.90 565.36,251.82" fill="#1414c8"/>
<line x1="621.7" y1="246.1" x2="646.7" y2="246.1" stroke="#555" stroke-width="1.3"/>
<polygon points="631.00,250.70 631.64,252.42 633.47,252.50 632.04,253.64 632.53,255.40 631.00,254.39 629.47,255.40 629.96,253.64 628.53,252.50 630.36,252.42" fill="#cc1acc"/><polygon points="637.10,250.70 637.74,252.42 639.57,252.50 638.14,253.64 638.63,255.40 637.10,254.39 635.57,255.40 636.06,253.64 634.63,252.50 636.46,252.42" fill="#cc1acc"/>
<text transform="translate(489.6,316.09999999999997) rotate(-45)" font-size="16.05" text-anchor="end">KCTD<tspan class="one">1</tspan>3<tspan dy="-7.5" font-size="11.9">+/+</tspan></text>
<text transform="translate(515.3,316.09999999999997) rotate(-45)" font-size="16.05" text-anchor="end">+ 50µM Rhosin</text>
<text transform="translate(558.6,316.09999999999997) rotate(-45)" font-size="16.05" text-anchor="end">KCTD<tspan class="one">1</tspan>3<tspan dy="-7.5" font-size="11.9">+/-</tspan></text>
<text transform="translate(583.9,316.09999999999997) rotate(-45)" font-size="16.05" text-anchor="end">+ 50µM Rhosin</text>
<text transform="translate(626.6,316.09999999999997) rotate(-45)" font-size="16.05" text-anchor="end">KCTD<tspan class="one">1</tspan>3<tspan dy="-7.5" font-size="11.9">-/-</tspan></text>
<text transform="translate(652.3,316.09999999999997) rotate(-45)" font-size="16.05" text-anchor="end">+ 50µM Rhosin</text>
<line x1="133.4" y1="185.3" x2="150.6" y2="185.3" stroke="#1a1a1a" stroke-width="1.0"/>
<line x1="142" y1="179.3" x2="142" y2="192.4" stroke="#1a1a1a" stroke-width="1.0"/><line x1="140.0" y1="179.3" x2="144.0" y2="179.3" stroke="#1a1a1a" stroke-width="1.0"/><line x1="140.0" y1="192.4" x2="144.0" y2="192.4" stroke="#1a1a1a" stroke-width="1.0"/>
<line x1="160.7" y1="208.2" x2="178.3" y2="208.2" stroke="#1a1a1a" stroke-width="1.0"/>
<line x1="169.5" y1="203.5" x2="169.5" y2="213" stroke="#1a1a1a" stroke-width="1.0"/><line x1="167.5" y1="203.5" x2="171.5" y2="203.5" stroke="#1a1a1a" stroke-width="1.0"/><line x1="167.5" y1="213" x2="171.5" y2="213" stroke="#1a1a1a" stroke-width="1.0"/>
<line x1="205.2" y1="208.3" x2="222.8" y2="208.3" stroke="#1a1a1a" stroke-width="1.0"/>
<line x1="214" y1="204.2" x2="214" y2="211.6" stroke="#1a1a1a" stroke-width="1.0"/><line x1="212.0" y1="204.2" x2="216.0" y2="204.2" stroke="#1a1a1a" stroke-width="1.0"/><line x1="212.0" y1="211.6" x2="216.0" y2="211.6" stroke="#1a1a1a" stroke-width="1.0"/>
<line x1="232.2" y1="211.8" x2="249.8" y2="211.8" stroke="#1a1a1a" stroke-width="1.0"/>
<line x1="241" y1="207.2" x2="241" y2="215.7" stroke="#1a1a1a" stroke-width="1.0"/><line x1="239.0" y1="207.2" x2="243.0" y2="207.2" stroke="#1a1a1a" stroke-width="1.0"/><line x1="239.0" y1="215.7" x2="243.0" y2="215.7" stroke="#1a1a1a" stroke-width="1.0"/>
<line x1="304" y1="217.5" x2="322" y2="217.5" stroke="#1a1a1a" stroke-width="1.0"/>
<line x1="476.59999999999997" y1="192.6" x2="493.2" y2="192.6" stroke="#1a1a1a" stroke-width="1.0"/>
<line x1="484.9" y1="187.4" x2="484.9" y2="196.6" stroke="#1a1a1a" stroke-width="1.0"/><line x1="482.9" y1="187.4" x2="486.9" y2="187.4" stroke="#1a1a1a" stroke-width="1.0"/><line x1="482.9" y1="196.6" x2="486.9" y2="196.6" stroke="#1a1a1a" stroke-width="1.0"/>
<line x1="502.0" y1="213.8" x2="519.0" y2="213.8" stroke="#1a1a1a" stroke-width="1.0"/>
<line x1="510.5" y1="210.3" x2="510.5" y2="217.4" stroke="#1a1a1a" stroke-width="1.0"/><line x1="508.5" y1="210.3" x2="512.5" y2="210.3" stroke="#1a1a1a" stroke-width="1.0"/><line x1="508.5" y1="217.4" x2="512.5" y2="217.4" stroke="#1a1a1a" stroke-width="1.0"/>
<line x1="544.7" y1="208.8" x2="561.7" y2="208.8" stroke="#1a1a1a" stroke-width="1.0"/>
<line x1="553.2" y1="206.5" x2="553.2" y2="211" stroke="#1a1a1a" stroke-width="1.0"/><line x1="551.2" y1="206.5" x2="555.2" y2="206.5" stroke="#1a1a1a" stroke-width="1.0"/><line x1="551.2" y1="211" x2="555.2" y2="211" stroke="#1a1a1a" stroke-width="1.0"/>
<line x1="570.4" y1="216.3" x2="587.4" y2="216.3" stroke="#1a1a1a" stroke-width="1.0"/>
<line x1="578.9" y1="214.2" x2="578.9" y2="218.1" stroke="#1a1a1a" stroke-width="1.0"/><line x1="576.9" y1="214.2" x2="580.9" y2="214.2" stroke="#1a1a1a" stroke-width="1.0"/><line x1="576.9" y1="218.1" x2="580.9" y2="218.1" stroke="#1a1a1a" stroke-width="1.0"/>
<path transform="matrix(1.00000,0.00000,0.00000,1.00000,0.000,0.000) translate(85.812,62.900) scale(0.009424,-0.009424)" d="M740,0L564,0L564,1102C522,1062 467,1022 399,983C332,944 270,915 215,896L215,1063C312,1108 397,1163 469,1227C541,1291 592,1352 622,1409L740,1409Z" fill="#111" stroke="#111" stroke-width="26.5"/>
<path transform="matrix(0.70711,-0.70711,0.70711,0.70711,147.000,317.000) translate(-36.891,0.000) scale(0.008252,-0.008252)" d="M740,0L564,0L564,1102C522,1062 467,1022 399,983C332,944 270,915 215,896L215,1063C312,1108 397,1163 469,1227C541,1291 592,1352 622,1409L740,1409Z" fill="#111" stroke="#111" stroke-width="30.3"/>
<path transform="matrix(0.70711,-0.70711,0.70711,0.70711,218.600,317.000) translate(-33.750,0.000) scale(0.008252,-0.008252)" d="M740,0L564,0L564,1102C522,1062 467,1022 399,983C332,944 270,915 215,896L215,1063C312,1108 397,1163 469,1227C541,1291 592,1352 622,1409L740,1409Z" fill="#111" stroke="#111" stroke-width="30.3"/>
<path transform="matrix(0.70711,-0.70711,0.70711,0.70711,290.800,317.000) translate(-30.625,0.000) scale(0.008252,-0.008252)" d="M740,0L564,0L564,1102C522,1062 467,1022 399,983C332,944 270,915 215,896L215,1063C312,1108 397,1163 469,1227C541,1291 592,1352 622,1409L740,1409Z" fill="#111" stroke="#111" stroke-width="30.3"/>
<path transform="matrix(1.00000,0.00000,0.00000,1.00000,0.000,0.000) translate(436.000,120.120) scale(0.009131,-0.009131)" d="M740,0L564,0L564,1102C522,1062 467,1022 399,983C332,944 270,915 215,896L215,1063C312,1108 397,1163 469,1227C541,1291 592,1352 622,1409L740,1409Z" fill="#111" stroke="#111" stroke-width="27.4"/>
<path transform="matrix(1.00000,0.00000,0.00000,1.00000,0.000,0.000) translate(436.000,165.840) scale(0.009131,-0.009131)" d="M740,0L564,0L564,1102C522,1062 467,1022 399,983C332,944 270,915 215,896L215,1063C312,1108 397,1163 469,1227C541,1291 592,1352 622,1409L740,1409Z" fill="#111" stroke="#111" stroke-width="27.4"/>
<path transform="matrix(1.00000,0.00000,0.00000,1.00000,0.000,0.000) translate(436.000,211.560) scale(0.009131,-0.009131)" d="M740,0L564,0L564,1102C522,1062 467,1022 399,983C332,944 270,915 215,896L215,1063C312,1108 397,1163 469,1227C541,1291 592,1352 622,1409L740,1409Z" fill="#111" stroke="#111" stroke-width="27.4"/>
<path transform="matrix(1.00000,0.00000,0.00000,1.00000,0.000,0.000) translate(436.000,257.280) scale(0.009131,-0.009131)" d="M740,0L564,0L564,1102C522,1062 467,1022 399,983C332,944 270,915 215,896L215,1063C312,1108 397,1163 469,1227C541,1291 592,1352 622,1409L740,1409Z" fill="#111" stroke="#111" stroke-width="27.4"/>
<path transform="matrix(1.00000,0.00000,0.00000,1.00000,0.000,0.000) translate(436.000,303.000) scale(0.009131,-0.009131)" d="M740,0L564,0L564,1102C522,1062 467,1022 399,983C332,944 270,915 215,896L215,1063C312,1108 397,1163 469,1227C541,1291 592,1352 622,1409L740,1409Z" fill="#111" stroke="#111" stroke-width="27.4"/>
<path transform="matrix(0.70711,-0.70711,0.70711,0.70711,489.600,316.100) translate(-35.047,0.000) scale(0.007837,-0.007837)" d="M740,0L564,0L564,1102C522,1062 467,1022 399,983C332,944 270,915 215,896L215,1063C312,1108 397,1163 469,1227C541,1291 592,1352 622,1409L740,1409Z" fill="#111" stroke="#111" stroke-width="31.9"/>
<path transform="matrix(0.70711,-0.70711,0.70711,0.70711,558.600,316.100) translate(-32.062,0.000) scale(0.007837,-0.007837)" d="M740,0L564,0L564,1102C522,1062 467,1022 399,983C332,944 270,915 215,896L215,1063C312,1108 397,1163 469,1227C541,1291 592,1352 622,1409L740,1409Z" fill="#111" stroke="#111" stroke-width="31.9"/>
<path transform="matrix(0.70711,-0.70711,0.70711,0.70711,626.600,316.100) translate(-29.078,0.000) scale(0.007837,-0.007837)" d="M740,0L564,0L564,1102C522,1062 467,1022 399,983C332,944 270,915 215,896L215,1063C312,1108 397,1163 469,1227C541,1291 592,1352 622,1409L740,1409Z" fill="#111" stroke="#111" stroke-width="31.9"/>
</svg>
</body></html>
